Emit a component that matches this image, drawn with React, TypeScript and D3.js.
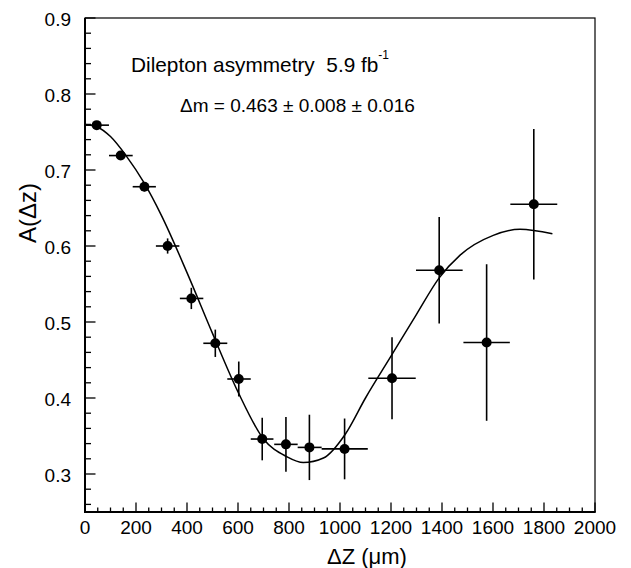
import { useEffect, useRef } from 'react'
import * as d3 from 'd3'

// measured points: bin centre, asymmetry, vertical error, bin edges
const dzCenter = [46, 140, 233, 324, 417, 511, 603, 695, 788, 880, 1018, 1204, 1389, 1575, 1760]
const asym = [0.759, 0.719, 0.678, 0.600, 0.531, 0.472, 0.425, 0.346, 0.339, 0.335, 0.333, 0.426, 0.568, 0.473, 0.655]
const asymErr = [0.004, 0.005, 0.006, 0.010, 0.014, 0.018, 0.023, 0.028, 0.036, 0.043, 0.040, 0.054, 0.070, 0.103, 0.099]
const binLo = [0, 94, 187, 278, 372, 464, 558, 650, 742, 834, 928, 1111, 1298, 1484, 1668]
const binHi = [94, 187, 278, 370, 464, 558, 650, 739, 834, 928, 1109, 1297, 1481, 1666, 1852]

// fit curve
const fitX = [0, 46, 100, 163, 232, 300, 400, 500, 600, 700, 790, 856, 935, 1020, 1100, 1200, 1300, 1389, 1471, 1601, 1706, 1833]
const fitY = [0.760, 0.757, 0.744, 0.718, 0.683, 0.640, 0.565, 0.485, 0.408, 0.346, 0.323, 0.315, 0.321, 0.352, 0.400, 0.455, 0.510, 0.558, 0.588, 0.614, 0.622, 0.616]

const xMajor = d3.range(0, 2001, 200)
const xMinor = d3.range(0, 2001, 50)
const yMajor = [0.3, 0.4, 0.5, 0.6, 0.7, 0.8, 0.9]
const yMinor = d3.range(13, 46).map(i => i * 0.02)

const font = '"Liberation Sans", Arial, Helvetica, sans-serif'

const App = () => {
  const svgRef = useRef<SVGSVGElement>(null)
  const W = 631
  const H = 568
  const left = 85, right = 595, top = 18, bottom = 512

  useEffect(() => {
    const svg = d3.select(svgRef.current)
    svg.selectAll('*').remove()

    const x = d3.scaleLinear().domain([0, 2000]).range([left, right])
    const y = d3.scaleLinear().domain([0.25, 0.9]).range([bottom, top])

    // frame
    svg.append('rect')
      .attr('x', left).attr('y', top)
      .attr('width', right - left).attr('height', bottom - top)
      .attr('fill', 'none').attr('stroke', 'black').attr('stroke-width', 1.2)
    svg.append('line').attr('x1', left).attr('x2', left).attr('y1', top).attr('y2', bottom + 1)
      .attr('stroke', 'black').attr('stroke-width', 2)
    svg.append('line').attr('x1', left - 1).attr('x2', right + 0.6).attr('y1', bottom).attr('y2', bottom)
      .attr('stroke', 'black').attr('stroke-width', 2)

    // x ticks (inside, upward)
    xMinor.forEach(v => {
      const major = v % 200 === 0
      svg.append('line')
        .attr('x1', x(v)).attr('x2', x(v))
        .attr('y1', bottom).attr('y2', bottom - (major ? 9.5 : 4.5))
        .attr('stroke', 'black').attr('stroke-width', 1.3)
    })
    xMajor.forEach(v => {
      svg.append('text')
        .attr('x', x(v)).attr('y', 534)
        .attr('text-anchor', 'middle')
        .style('font-family', font).style('font-size', '19px')
        .text(`${v}`)
    })

    // y ticks (inside, rightward)
    yMinor.forEach(v => {
      const major = yMajor.some(m => Math.abs(m - v) < 1e-6)
      svg.append('line')
        .attr('x1', left).attr('x2', left + (major ? 10.5 : 6))
        .attr('y1', y(v)).attr('y2', y(v))
        .attr('stroke', 'black').attr('stroke-width', 1.3)
    })
    yMajor.forEach(v => {
      svg.append('text')
        .attr('x', 71).attr('y', y(v) + 1)
        .attr('dy', '0.35em')
        .attr('text-anchor', 'end')
        .style('font-family', font).style('font-size', '19px')
        .text(v.toFixed(1))
    })

    // axis titles
    svg.append('text')
      .attr('transform', `translate(36,213) rotate(-90)`)
      .attr('text-anchor', 'middle')
      .style('font-family', font).style('font-size', '24px')
      .text('A(\u0394z)')
    svg.append('text')
      .attr('x', 367).attr('y', 564)
      .attr('text-anchor', 'middle')
      .style('font-family', font).style('font-size', '22px')
      .text('\u0394Z (\u03bcm)')

    // legend text
    const t1 = svg.append('text')
      .attr('x', 131).attr('y', 72)
      .style('font-family', font).style('font-size', '20.8px')
    t1.append('tspan').text('Dilepton asymmetry\u00a0\u00a05.9 fb')
    t1.append('tspan').attr('dy', -13).style('font-size', '12px').text('-1')

    svg.append('text')
      .attr('x', 180).attr('y', 112)
      .style('font-family', font).style('font-size', '19px')
      .text('\u0394m = 0.463 \u00b1 0.008 \u00b1 0.016')

    // fit curve
    const line = d3.line<number>()
      .x((_, i) => x(fitX[i]))
      .y(d => y(d))
      .curve(d3.curveMonotoneX)
    svg.append('path')
      .datum(fitY)
      .attr('fill', 'none')
      .attr('stroke', 'black')
      .attr('stroke-width', 1.5)
      .attr('d', line)

    // data points with error bars
    dzCenter.forEach((c, i) => {
      svg.append('line')
        .attr('x1', x(binLo[i])).attr('x2', x(binHi[i]))
        .attr('y1', y(asym[i])).attr('y2', y(asym[i]))
        .attr('stroke', 'black').attr('stroke-width', 1.6)
      svg.append('line')
        .attr('x1', x(c)).attr('x2', x(c))
        .attr('y1', y(asym[i] - asymErr[i])).attr('y2', y(asym[i] + asymErr[i]))
        .attr('stroke', 'black').attr('stroke-width', 1.6)
      svg.append('circle')
        .attr('cx', x(c)).attr('cy', y(asym[i]))
        .attr('r', 5)
        .attr('fill', 'black')
    })
  }, [])

  return (
    <svg ref={svgRef} width={W} height={H}
      style={{ position: 'absolute', left: 0, top: 0, background: 'white' }}></svg>
  )
}

export default App
